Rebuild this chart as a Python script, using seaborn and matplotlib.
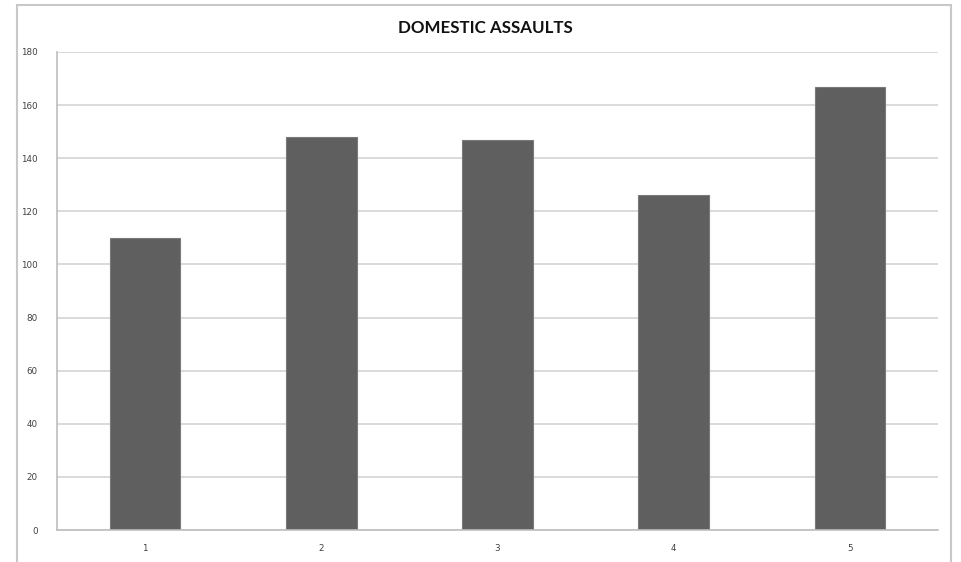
import matplotlib
matplotlib.use("Agg")
import matplotlib.pyplot as plt
import matplotlib.patches as mpatches
import seaborn as sns
import pandas as pd

categories = ["1", "2", "3", "4", "5"]
assaults = [110, 148, 147, 126, 167]
y_ticks = [0, 20, 40, 60, 80, 100, 120, 140, 160, 180]

df = pd.DataFrame({"period": categories, "count": assaults})

sns.set_style("white")
plt.rcParams["font.family"] = ["DejaVu Sans"]

fig = plt.figure(figsize=(9.61, 5.62), dpi=100)
ax = fig.add_axes([57 / 961, 1 - 530 / 562, (938 - 57) / 961, (530 - 52) / 562])

# chart frame
fig.patches.append(mpatches.Rectangle((17 / 961, -0.05), (951 - 17) / 961, 1.05 - 5 / 562,
                                      transform=fig.transFigure, fill=False,
                                      edgecolor="#c8c8c8", linewidth=1.5))

sns.barplot(data=df, x="period", y="count", ax=ax, width=0.4,
            color="#5f5f5f", edgecolor="#7a7a7a", linewidth=0.8, saturation=1)

ax.set_ylim(0, 180)
ax.set_yticks(y_ticks)
ax.set_xlim(-0.5, 4.5)
ax.yaxis.grid(True, color="#d4d4d4", linewidth=1.2)
ax.set_axisbelow(True)
for side in ["top", "right"]:
    ax.spines[side].set_visible(False)
for side in ["left", "bottom"]:
    ax.spines[side].set_color("#bdbdbd")
    ax.spines[side].set_linewidth(1.2)
ax.tick_params(axis="both", labelsize=6.3, colors="#404040", length=0, pad=14)
ax.tick_params(axis="x", pad=10)
ax.set_xlabel("")
ax.set_ylabel("")

fig.text(0.505, 1 - 28 / 562, "DOMESTIC ASSAULTS", ha="center", va="center",
         fontsize=12.2, fontweight="bold", family="Lato", color="#111111")

fig.savefig("out.png", dpi=100)
